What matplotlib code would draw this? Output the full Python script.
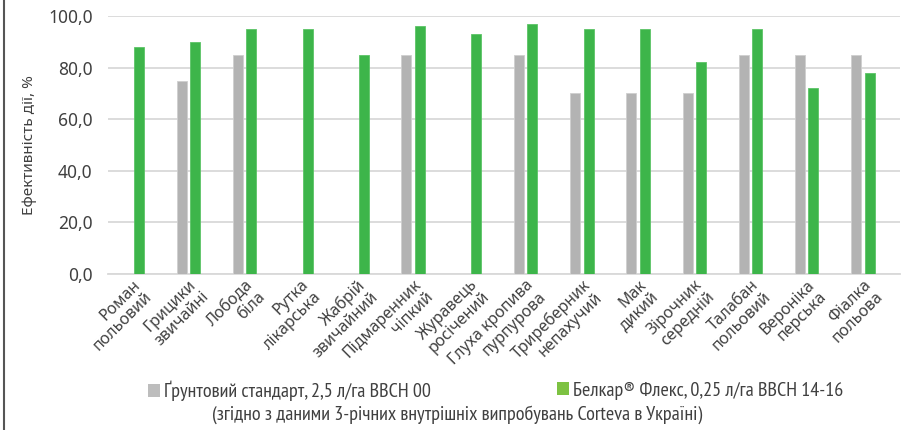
import matplotlib
matplotlib.use("Agg")
import matplotlib.pyplot as plt
import numpy as np
from matplotlib.lines import Line2D
from matplotlib.patches import Patch
import matplotlib.transforms as mtransforms

categories = ["Роман\nпольовий", "Грицики\nзвичайні", "Лобода\nбіла", "Рутка\nлікарська",
              "Жабрій\nзвичайний", "Підмаренник\nчіпкий", "Журавець\nросічений",
              "Глуха кропива\nпурпурова", "Триреберник\nнепахучий", "Мак\nдикий",
              "Зірочник\nсередній", "Талабан\nпольовий", "Вероніка\nперська", "Фіалка\nпольова"]
standard = [np.nan, 75, 85, np.nan, np.nan, 85, np.nan, 85, 70, 70, 70, 85, 85, 85]
belkar = [88, 90, 95, 95, 85, 96, 93, 97, 95, 95, 82, 95, 72, 78]
yticks = [0, 20, 40, 60, 80, 100]
ytick_labels = ["0,0", "20,0", "40,0", "60,0", "80,0", "100,0"]
label_standard = "Ґрунтовий стандарт, 2,5 л/га BBCH 00"
label_belkar = "Белкар® Флекс, 0,25 л/га BBCH 14-16"
note = "(згідно з даними 3-річних внутрішніх випробувань Corteva в Україні)"
ylabel = "Ефективність дії, %"

grey = "#b3b3b3"
green = "#3db54a"
txt_color = "#404040"
narrow = ['PT Sans Narrow', 'Roboto Condensed', 'Noto Sans', 'DejaVu Sans']

plt.rcParams['font.family'] = ['Noto Sans', 'DejaVu Sans']

fig = plt.figure(figsize=(9.15, 4.3), dpi=100)
ax_left, ax_right = 108, 900
ax = fig.add_axes([ax_left/915, 1-274/430, (ax_right-ax_left)/915, (274-16)/430])

x = np.arange(len(categories))
w = 0.178
off = 0.12
ax.bar(x - off, standard, width=w, color=grey, edgecolor="#cfcfcf", linewidth=0.6, zorder=3)
ax.bar(x + off, belkar, width=w, color=green, edgecolor="#5cc466", linewidth=0.6, zorder=3)

ax.set_xlim(-0.43, len(categories) - 1 + 0.66)
ax.set_ylim(0, 100)
ax.set_yticks(yticks)
ax.set_yticklabels(ytick_labels, fontsize=12.5, color=txt_color)
ax.yaxis.grid(True, color="#d9d9d9", linewidth=1.3, zorder=0)
ax.set_axisbelow(True)
for s in ["top", "right", "left"]:
    ax.spines[s].set_visible(False)
ax.spines["bottom"].set_color("#d9d9d9")
ax.spines["bottom"].set_linewidth(1.3)
ax.tick_params(axis="both", length=0)
ax.tick_params(axis="y", pad=11)
ax.set_xticks(x)
labels = ax.set_xticklabels(categories, rotation=45, ha="right", va="top", rotation_mode="anchor",
                            fontsize=11.5, color=txt_color, linespacing=1.1)
shift = mtransforms.ScaledTranslation(4/72, 0, fig.dpi_scale_trans)
for lab in labels:
    lab.set_transform(lab.get_transform() + shift)
ax.tick_params(axis="x", pad=2)
ax.set_ylabel(ylabel, fontsize=11, color=txt_color, labelpad=8)

# legend (two entries pinned at their reference positions)
leg_kw = dict(loc="center left", frameon=False, handlelength=0.62, handleheight=0.62,
              handletextpad=0.15, borderpad=0, borderaxespad=0,
              prop={'family': narrow, 'size': 14.5})
leg1 = fig.legend(handles=[Patch(facecolor="#bdbdbd", edgecolor="none", label=label_standard)],
                  bbox_to_anchor=(148/915, 1-391/430), **leg_kw)
leg2 = fig.legend(handles=[Patch(facecolor="#7dc242", edgecolor="none", label=label_belkar)],
                  bbox_to_anchor=(557/915, 1-391/430), **leg_kw)
for leg in (leg1, leg2):
    for t in leg.get_texts():
        t.set_color(txt_color)
fig.text(457/915, 1-415/430, note, ha="center", va="center", fontsize=14.5, color=txt_color,
         family=narrow)

fig.add_artist(Line2D([4/915, 4/915], [0, 1], color="#555555", linewidth=1.5))

fig.savefig("out.png", dpi=100)
